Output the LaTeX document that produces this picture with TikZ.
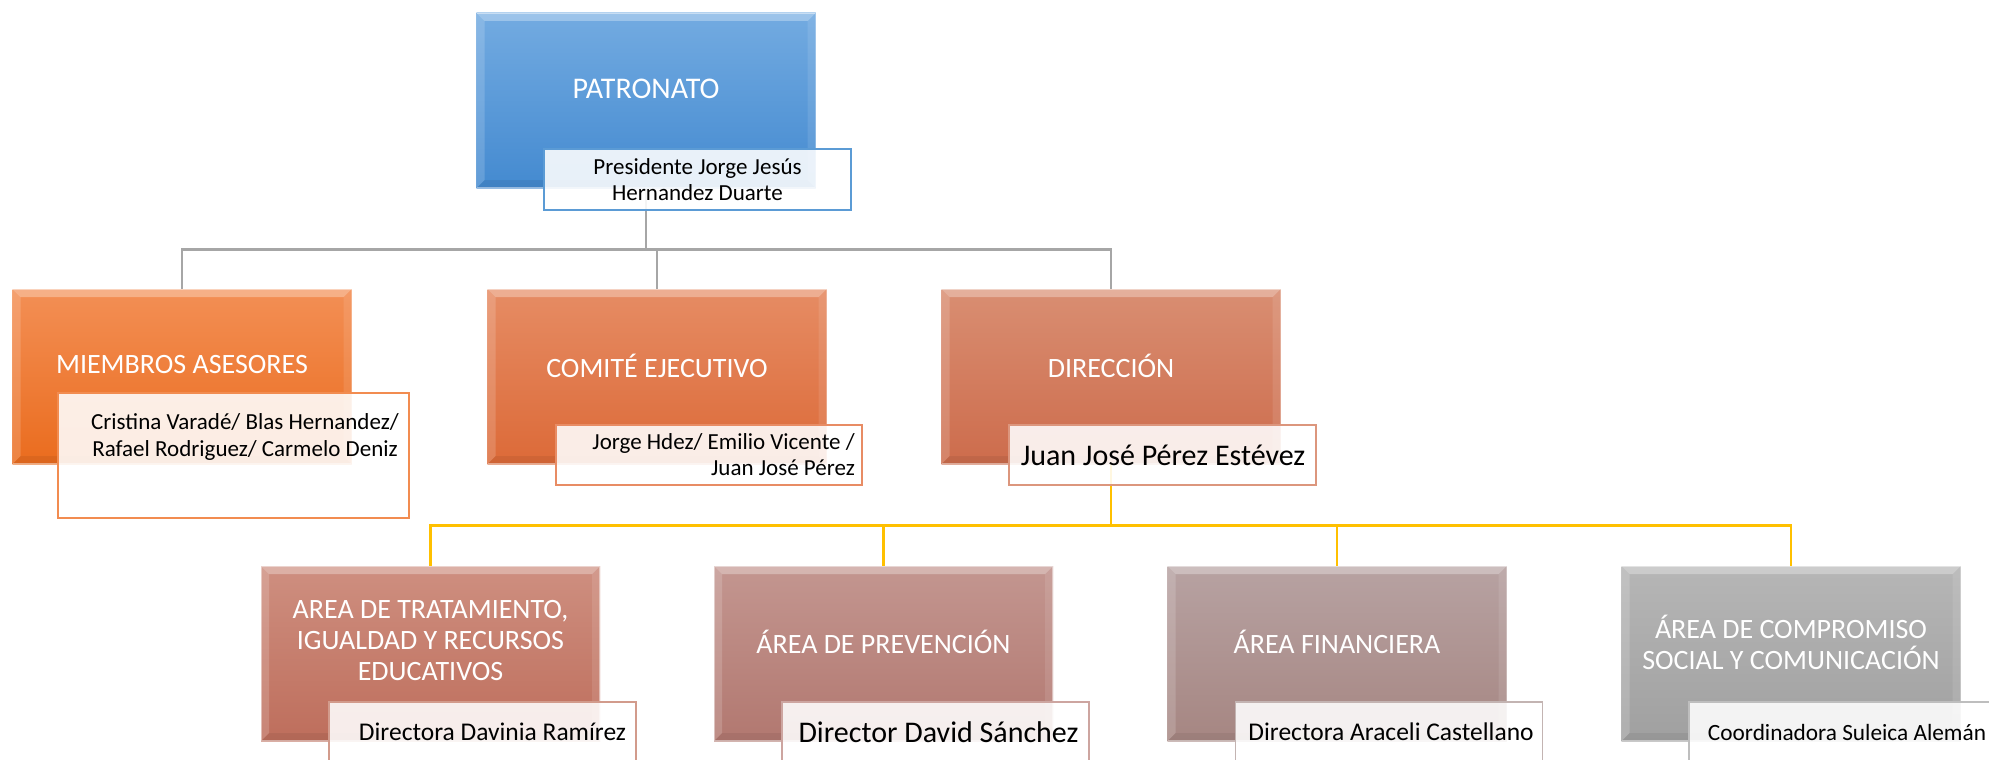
\documentclass[tikz,border=0pt]{standalone}
\usepackage{fontspec}
\setmainfont{Carlito}
\usetikzlibrary{backgrounds}
\definecolor{cPa}{RGB}{115,171,225}
\definecolor{cPb}{RGB}{68,138,208}
\definecolor{cMa}{RGB}{243,143,85}
\definecolor{cMb}{RGB}{234,108,30}
\definecolor{cCa}{RGB}{230,140,100}
\definecolor{cCb}{RGB}{220,106,56}
\definecolor{cDa}{RGB}{217,142,114}
\definecolor{cDb}{RGB}{205,108,76}
\definecolor{cAa}{RGB}{206,143,128}
\definecolor{cAb}{RGB}{190,110,92}
\definecolor{cBa}{RGB}{195,150,144}
\definecolor{cBb}{RGB}{178,120,112}
\definecolor{cFa}{RGB}{183,162,162}
\definecolor{cFb}{RGB}{166,134,130}
\definecolor{cGa}{RGB}{182,182,182}
\definecolor{cGb}{RGB}{160,160,160}
\definecolor{bP}{RGB}{91,155,213}
\definecolor{bM}{RGB}{242,140,80}
\definecolor{bC}{RGB}{232,140,100}
\definecolor{bD}{RGB}{220,150,125}
\definecolor{bA}{RGB}{210,155,140}
\definecolor{bB}{RGB}{205,165,160}
\definecolor{bF}{RGB}{195,180,178}
\definecolor{bG}{RGB}{190,190,190}
\definecolor{gline}{RGB}{166,166,166}
\definecolor{yline}{RGB}{255,192,0}
\newcommand\fs[2]{\fontsize{#1}{#2}\selectfont}
\begin{document}
\begin{tikzpicture}[x=1pt,y=-1pt,
  bevel/.style={path picture={
    \coordinate (bnw) at (path picture bounding box.north west);
    \coordinate (bne) at (path picture bounding box.north east);
    \coordinate (bsw) at (path picture bounding box.south west);
    \coordinate (bse) at (path picture bounding box.south east);
    \fill[white,opacity=.30] (bnw) -- (bne) -- ([shift={(-8pt,-8pt)}]bne) -- ([shift={(8pt,-8pt)}]bnw) -- cycle;
    \fill[white,opacity=.16] (bnw) -- ([shift={(8pt,-8pt)}]bnw) -- ([shift={(8pt,8pt)}]bsw) -- (bsw) -- cycle;
    \fill[white,opacity=.10] (bne) -- ([shift={(-8pt,-8pt)}]bne) -- ([shift={(-8pt,8pt)}]bse) -- (bse) -- cycle;
    \fill[black,opacity=.06] (bsw) -- ([shift={(8pt,8pt)}]bsw) -- ([shift={(-8pt,8pt)}]bse) -- (bse) -- cycle;
    \draw[white,opacity=.45,line width=1.2pt] (bnw) rectangle (bse);
  }},
  mainbox/.style={draw=none, minimum width=339pt, minimum height=175pt, inner sep=0pt, bevel},
  subbox/.style={fill=white, fill opacity=0.88, line width=1.4pt, minimum width=307pt, minimum height=61pt, inner sep=0pt},
  title/.style={text=white, align=center, inner sep=0pt, font=\fs{28}{31}},
  subtext/.style={text=black, align=center, inner sep=0pt},
  gconn/.style={draw=gline, line width=2.6pt},
  yconn/.style={draw=yline, line width=2.6pt}
]
\useasboundingbox (0,0) rectangle (1989,760);
\clip (0,0) rectangle (1989,760);

% main boxes
\node[mainbox, top color=cPa, bottom color=cPb] (P) at (646,100.5) {};
\node[mainbox, top color=cMa, bottom color=cMb] (M) at (182,376.5) {};
\node[mainbox, top color=cCa, bottom color=cCb] (C) at (657,376.5) {};
\node[mainbox, top color=cDa, bottom color=cDb] (D) at (1111,376.5) {};
\node[mainbox, top color=cAa, bottom color=cAb] (A1) at (430.5,653.5) {};
\node[mainbox, top color=cBa, bottom color=cBb] (A2) at (883.5,653.5) {};
\node[mainbox, top color=cFa, bottom color=cFb] (A3) at (1337,653.5) {};
\node[mainbox, top color=cGa, bottom color=cGb] (A4) at (1791,653.5) {};

% titles
\node[title, font=\fs{30}{33}] (Pt) at ([yshift=11.5pt]P.center) {PATRONATO};
\node[title] (Mt) at ([yshift=11.5pt]M.center) {MIEMBROS ASESORES};
\node[title] (Ct) at ([yshift=10.5pt]C.center) {COMITÉ EJECUTIVO};
\node[title] (Dt) at ([yshift=10.5pt]D.center) {DIRECCIÓN};
\node[title] (A1t) at ([yshift=12.5pt]A1.center) {AREA DE TRATAMIENTO,\\IGUALDAD Y RECURSOS\\EDUCATIVOS};
\node[title] (A2t) at ([yshift=11.5pt]A2.center) {ÁREA DE PREVENCIÓN};
\node[title] (A3t) at ([yshift=11.5pt]A3.center) {ÁREA FINANCIERA};
\node[title] (A4t) at ([yshift=11.5pt]A4.center) {ÁREA DE COMPROMISO\\SOCIAL Y COMUNICACIÓN};

% sub boxes
\node[subbox, draw=bP] (Ps) at (697.5,179.5) {};
\node[subbox, draw=bM, minimum width=351pt, minimum height=125pt] (Ms) at (233.5,455.5) {};
\node[subbox, draw=bC, minimum width=306pt, minimum height=60pt] (Cs) at (709,455) {};
\node[subbox, draw=bD, minimum height=60pt] (Ds) at (1162.5,455) {};
\node[subbox, draw=bA] (A1s) at (482.5,732.5) {};
\node[subbox, draw=bB] (A2s) at (935.5,732.5) {};
\node[subbox, draw=bF] (A3s) at (1389,732.5) {};
\node[subbox, draw=bG] (A4s) at (1842.5,732.5) {};

% sub texts
\node[subtext, font=\fs{23}{26}] (Pst) at (697.5,180) {Presidente Jorge Jesús\\Hernandez Duarte};
\node[subtext, font=\fs{23}{27}] (Mst) at (245,436.5) {Cristina Varadé/ Blas Hernandez/\\Rafael Rodriguez/ Carmelo Deniz};
\node[subtext, align=right, anchor=east, font=\fs{23}{26}] (Cst) at (855,455) {Jorge Hdez/ Emilio Vicente /\\Juan José Pérez};
\node[subtext, font=\fs{30}{33}] (Dst) at (1163,455) {Juan José Pérez Estévez};
\node[subtext, font=\fs{25.5}{28}] (A1st) at (492.5,732) {Directora Davinia Ramírez};
\node[subtext, font=\fs{30}{33}] (A2st) at (938.5,732) {Director David Sánchez};
\node[subtext, font=\fs{25.5}{28}] (A3st) at (1391,732) {Directora Araceli Castellano};
\node[subtext, font=\fs{23.3}{26}] (A4st) at (1847,732) {Coordinadora Suleica Alemán};

% connectors
\begin{scope}[on background layer]
\fill[white] (0,0) rectangle (1989,760);
\draw[gconn] (P.south) -- ++(0,61) -| (M.north);
\draw[gconn] (P.south) -- ++(0,61) -| (C.north);
\draw[gconn] (P.south) -- ++(0,61) -| (D.north);
\draw[yconn] (D.south) -- ++(0,61) -| (A1.north);
\draw[yconn] (D.south) -- ++(0,61) -| (A2.north);
\draw[yconn] (D.south) -- ++(0,61) -| (A3.north);
\draw[yconn] (D.south) -- ++(0,61) -| (A4.north);
\end{scope}
\end{tikzpicture}
\end{document}
